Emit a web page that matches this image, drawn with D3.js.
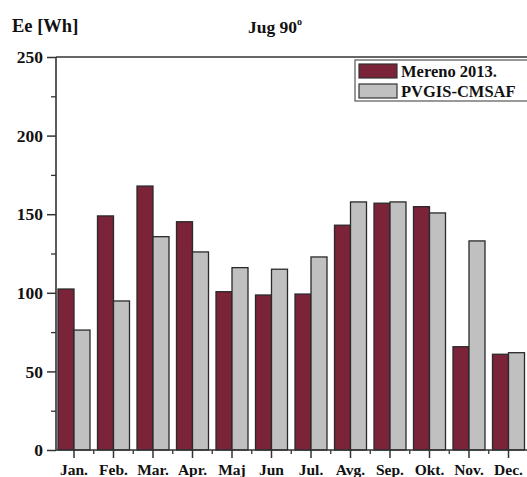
<!DOCTYPE html>
<html><head><meta charset="utf-8">
<script src="https://cdn.jsdelivr.net/npm/d3@7"></script>
<style>
html,body{margin:0;padding:0;background:#fff;}
svg{display:block;}
text{font-family:"Liberation Serif","Times New Roman",serif;font-weight:bold;fill:#111;}
</style></head>
<body>
<script>
const months = ["Jan.","Feb.","Mar.","Apr.","Maj","Jun","Jul.","Avg.","Sep.","Okt.","Nov.","Dec."];
const seriesNames = ["Mereno 2013.","PVGIS-CMSAF"];
const mereno = [102.4,148.9,167.9,145.2,100.7,98.6,99.2,143,157,154.8,65.7,60.9];
const pvgis  = [76.3,94.8,135.7,126,116,115,122.8,157.8,157.8,150.8,133,61.9];
const yTicks = [0,50,100,150,200,250];
const yMinorTicks = [25,75,125,175,225];
const colors = ["#7a2339","#c0c0c0"];

const W = 527, H = 477;
const mLeft = 56, mTop = 57, mBottom = 450;
const svg = d3.select("body").append("svg").attr("width",W).attr("height",H);

const y = d3.scaleLinear().domain([0,250]).range([mBottom, mTop]);
const x = d3.scaleBand().domain(months).range([54.25, 54.25 + 39.5*12]).padding(0);
const xs = d3.scaleBand().domain(seriesNames).range([(39.5-32)/2, (39.5+32)/2]).padding(0);

const data = months.map((m,i)=>({m, vals:[mereno[i], pvgis[i]]}));

// bars
const g = svg.append("g");
data.forEach(d=>{
  d.vals.forEach((v,j)=>{
    g.append("rect")
      .attr("x", x(d.m) + xs(seriesNames[j]))
      .attr("y", y(v))
      .attr("width", xs.bandwidth())
      .attr("height", y(0) - y(v))
      .attr("fill", colors[j])
      .attr("stroke", "#2a2a2a")
      .attr("stroke-width", 1.3);
  });
});

// frame lines
svg.append("line").attr("x1",mLeft).attr("x2",W).attr("y1",mTop).attr("y2",mTop)
  .attr("stroke","#333").attr("stroke-width",1.6);
svg.append("line").attr("x1",mLeft).attr("x2",mLeft).attr("y1",mTop).attr("y2",mBottom)
  .attr("stroke","#333").attr("stroke-width",1.6);
svg.append("line").attr("x1",mLeft).attr("x2",W).attr("y1",mBottom).attr("y2",mBottom)
  .attr("stroke","#333").attr("stroke-width",1.6);

// y axis ticks
const yAxis = d3.axisLeft(y).tickValues(yTicks).tickSize(9).tickPadding(4);
const ya = svg.append("g").attr("transform",`translate(${mLeft},0)`).call(yAxis);
ya.select(".domain").remove();
ya.selectAll(".tick line").attr("stroke","#333").attr("stroke-width",1.5);
ya.selectAll(".tick text").style("font-size","17.5px").style("font-family","'Liberation Serif',serif").style("font-weight","bold").attr("fill","#111");
const yaMinor = d3.axisLeft(y).tickValues(yMinorTicks).tickSize(5).tickFormat("");
const ym = svg.append("g").attr("transform",`translate(${mLeft},0)`).call(yaMinor);
ym.select(".domain").remove();
ym.selectAll(".tick line").attr("stroke","#333").attr("stroke-width",1.3);

// x axis
const xAxis = d3.axisBottom(x).tickSize(8).tickPadding(6);
const xa = svg.append("g").attr("transform",`translate(0,${mBottom})`).call(xAxis);
xa.select(".domain").remove();
xa.selectAll(".tick line").attr("stroke","#333").attr("stroke-width",1.5);
xa.selectAll(".tick text").style("font-size","15.5px").style("font-family","'Liberation Serif',serif").style("font-weight","bold").attr("fill","#111");
// minor x ticks between months
const xMinorG = svg.append("g");
months.forEach(m=>{
  const xp = x(m) + x.bandwidth();
  xMinorG.append("line").attr("x1",xp).attr("x2",xp).attr("y1",mBottom).attr("y2",mBottom+4)
    .attr("stroke","#333").attr("stroke-width",1.3);
});

// titles
svg.append("text").attr("x",12).attr("y",32).style("font-size","18.5px").text("Ee [Wh]");
const t = svg.append("text").attr("x",248).attr("y",33).style("font-size","17.5px");
t.append("tspan").text("Jug 90");
t.append("tspan").attr("dy",-8).style("font-size","10px").text("o");

// legend
const lg = svg.append("g");
lg.append("rect").attr("x",355).attr("y",60).attr("width",180).attr("height",41)
  .attr("fill","#fff").attr("stroke","#555").attr("stroke-width",1.2);
seriesNames.forEach((s,j)=>{
  lg.append("rect").attr("x",359).attr("y",64 + j*20).attr("width",38).attr("height",14)
    .attr("fill",colors[j]).attr("stroke","#333").attr("stroke-width",1.2);
  lg.append("text").attr("x",401).attr("y",76.5 + j*20).style("font-size","16.5px").text(s);
});
</script>
</body></html>
